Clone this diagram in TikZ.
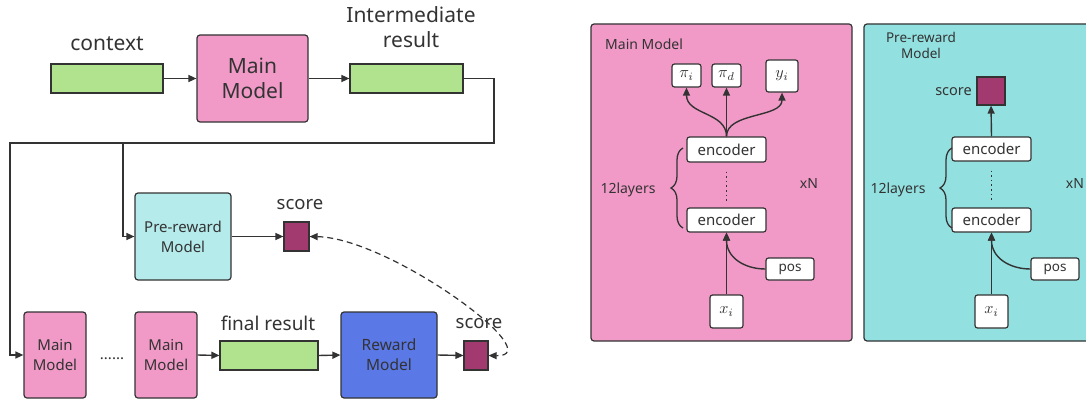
\documentclass[tikz,border=0pt]{standalone}
\usepackage{graphicx}
\usepackage{fontspec}
\setmainfont{Noto Sans}
\usetikzlibrary{arrows.meta,decorations.pathreplacing,calc}
\definecolor{ln}{HTML}{333333}
\definecolor{pinkc}{HTML}{F19AC7}
\definecolor{greenc}{HTML}{B1E28E}
\definecolor{scorec}{HTML}{A23A70}
\definecolor{lcyan}{HTML}{B5EBEB}
\definecolor{pcyan}{HTML}{93E0E0}
\definecolor{bluec}{HTML}{5A78E6}
\newcommand{\fs}[2]{\fontsize{#1}{#2}\selectfont}
\newcommand{\bm}[1]{{\fontsize{10}{12}\selectfont\scalebox{1.6}{$#1$}}}
\tikzset{
  box/.style={draw=ln, line width=1.2pt, rounded corners=3pt, inner sep=0pt, align=center, text=ln},
  wbox/.style={box, fill=white, rounded corners=2.5pt, font=\fs{15}{18}},
  lbl/.style={text=ln, inner sep=0pt, align=center},
  arr/.style={draw=ln, line width=1.4pt, -{Triangle[length=8pt,width=7pt]}},
  brc/.style={draw=ln, line width=1.3pt, decorate, decoration={brace, amplitude=12pt}},
}
\begin{document}
\begin{tikzpicture}[x=1pt,y=-1pt]
\useasboundingbox (0,0) rectangle (1086,404);
% ---------- left part ----------
\node[box, fill=greenc, rounded corners=0pt, minimum width=112pt, minimum height=29pt] (ctx) at (107,78.5) {};
\node[box, fill=pinkc, minimum width=111pt, minimum height=87pt, font=\fs{21}{25}] (mm0) at (252.5,78.5) {Main\\Model};
\node[box, fill=greenc, rounded corners=0pt, minimum width=113pt, minimum height=29pt] (inter) at (406.5,78.5) {};
\node[lbl, font=\fs{21}{25}] (ctxl) at (107,44) {context};
\node[lbl, font=\fs{21}{25}] (interl) at (411,27) {Intermediate\\result};

\node[box, fill=lcyan, minimum width=96pt, minimum height=87pt, font=\fs{15}{20}] (prm) at (183,236.5) {Pre-reward\\Model};
\node[box, fill=scorec, rounded corners=0pt, minimum width=25pt, minimum height=29pt] (s1) at (296.5,236.5) {};
\node[lbl, font=\fs{18.5}{22}] (s1l) at (300,205) {score};

\node[box, fill=pinkc, minimum width=62pt, minimum height=86pt, font=\fs{15}{20}] (mm1) at (55,355) {Main\\Model};
\node[lbl, font=\fs{15}{18}] (dots) at (112,359) {......};
\node[box, fill=pinkc, minimum width=62pt, minimum height=86pt, font=\fs{15}{20}] (mm2) at (166,355) {Main\\Model};
\node[box, fill=greenc, rounded corners=0pt, minimum width=98pt, minimum height=29pt] (final) at (269,355.5) {};
\node[lbl, font=\fs{19}{22}] (finall) at (268,323) {final result};
\node[box, fill=bluec, minimum width=96pt, minimum height=86pt, font=\fs{15.5}{20}] (rm) at (389,355) {Reward\\Model};
\node[box, fill=scorec, rounded corners=0pt, minimum width=24pt, minimum height=29pt] (s2) at (476,355.5) {};
\node[lbl, font=\fs{18.5}{22}] (s2l) at (479,324) {score};

\coordinate (tr) at (494,143);
\coordinate (tl) at (10,143);
\coordinate (br) at (123,143);
\draw[arr] (ctx.east) -- (mm0.west);
\draw[arr] (mm0.east) -- (inter.west);
\draw[arr] (inter.east) -| (tr) -- (tl) |- (mm1.west);
\draw[arr] (br) |- (prm.west);
\draw[arr] (prm.east) -- (s1.west);
\draw[arr] (mm2.east) -- (final.west);
\draw[arr] (final.east) -- (rm.west);
\draw[arr] (rm.east) -- (s2.west);
\draw[draw=ln, line width=1.2pt, dash pattern=on 6pt off 4pt, {Triangle[length=8pt,width=7pt]}-{Triangle[length=8pt,width=7pt]}]
  (s1.east) .. controls (390,238) and (552,357) .. (s2.east);

% ---------- Main Model panel ----------
\node[draw=ln, line width=1.2pt, fill=pinkc, rounded corners=3pt, minimum width=261pt, minimum height=317pt] (p1) at (721.5,182.5) {};
\node[lbl, font=\fs{14}{17}, anchor=west] (p1l) at (605,44) {Main Model};
\node[wbox, minimum width=29pt, minimum height=23pt] (pii) at (686.5,75.5) {\bm{\pi_i}};
\node[wbox, minimum width=29pt, minimum height=23pt] (pid) at (726.5,75.5) {\bm{\pi_d}};
\node[wbox, minimum width=32pt, minimum height=32pt] (yi) at (782,76) {\bm{y_i}};
\node[wbox, minimum width=79pt, minimum height=25pt] (e1) at (726.5,149.5) {encoder};
\node[wbox, minimum width=79pt, minimum height=24pt] (e2) at (726.5,220) {encoder};
\node[wbox, minimum width=48pt, minimum height=22pt, font=\fs{13.5}{16}] (pos1) at (790,269) {pos};
\node[wbox, minimum width=33pt, minimum height=33pt] (xi1) at (726.5,311.5) {\bm{x_i}};
\node[lbl, font=\fs{14}{17}] (l1) at (628,190) {12layers};
\node[lbl, font=\fs{14}{17}] (n1) at (809,184) {xN};
\draw[draw=ln, line width=1.6pt, dash pattern=on 1.6pt off 3pt] ($(e1.south)+(0,9)$) -- ($(e2.north)+(0,-6)$);
\draw[brc] (683,228) -- (683,148);
\draw[arr] (xi1.north) -- (e2.south);
\draw[arr] (pos1.west) .. controls (745,269) and (726.5,258) .. (e2.south);
\draw[arr] (e1.north) .. controls (726.5,112) and (686.5,115) .. (pii.south);
\draw[arr] (e1.north) -- (pid.south);
\draw[arr] (e1.north) .. controls (726.5,112) and (782,118) .. (yi.south);

% ---------- Pre-reward Model panel ----------
\node[draw=ln, line width=1.2pt, fill=pcyan, rounded corners=3pt, minimum width=228pt, minimum height=317pt] (p2) at (978,182.5) {};
\node[lbl, font=\fs{13.5}{16}] (p2l) at (921,45.5) {Pre-reward\\Model};
\node[box, fill=scorec, rounded corners=0pt, minimum width=28pt, minimum height=28pt] (s3) at (991,91) {};
\node[lbl, font=\fs{14.5}{17}, anchor=east] (s3l) at (972,92) {score};
\node[wbox, minimum width=79pt, minimum height=24pt] (e3) at (991.5,149) {encoder};
\node[wbox, minimum width=79pt, minimum height=24pt] (e4) at (991.5,220) {encoder};
\node[wbox, minimum width=48pt, minimum height=22pt, font=\fs{13.5}{16}] (pos2) at (1055,269) {pos};
\node[wbox, minimum width=33pt, minimum height=33pt] (xi2) at (991.5,311.5) {\bm{x_i}};
\node[lbl, font=\fs{14}{17}] (l2) at (898,190) {12layers};
\node[lbl, font=\fs{14}{17}] (n2) at (1075,184) {xN};
\draw[draw=ln, line width=1.6pt, dash pattern=on 1.6pt off 3pt] ($(e3.south)+(0,9)$) -- ($(e4.north)+(0,-6)$);
\draw[brc] (952,228) -- (952,148);
\draw[arr] (xi2.north) -- (e4.south);
\draw[arr] (pos2.west) .. controls (1010,269) and (991.5,258) .. (e4.south);
\draw[arr] (e3.north) -- (s3.south);
\end{tikzpicture}
\end{document}
